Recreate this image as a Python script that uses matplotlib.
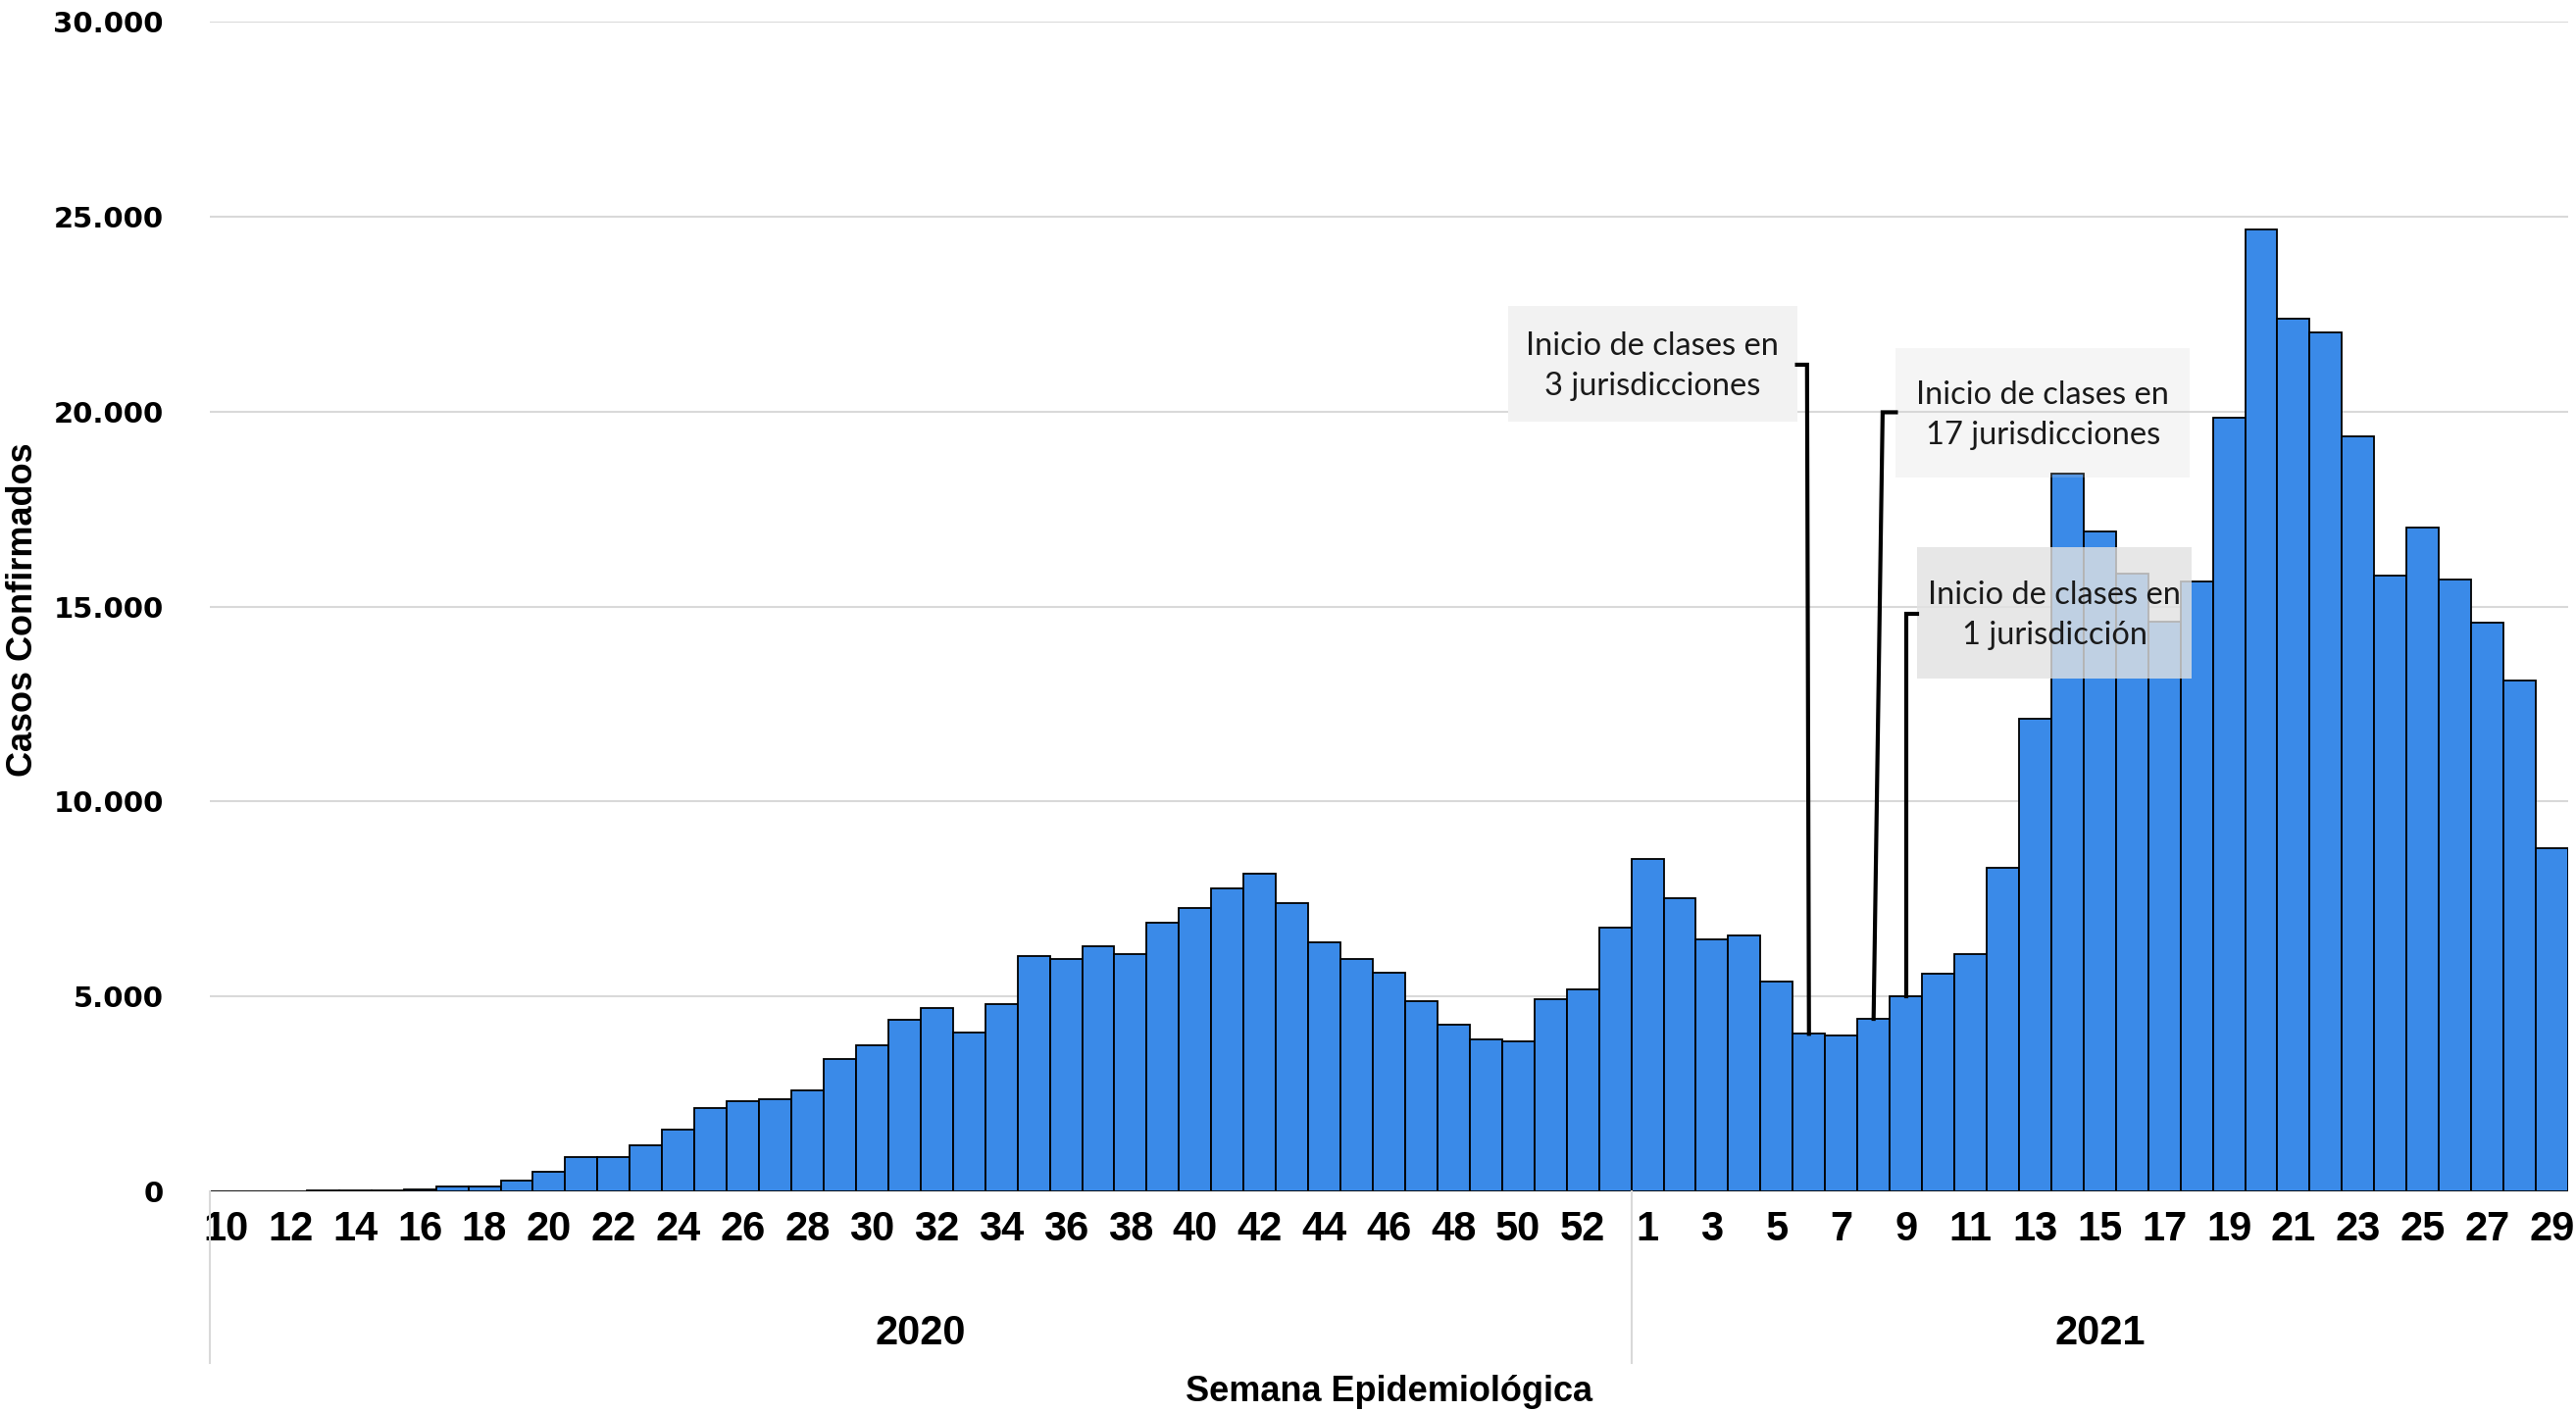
import matplotlib
matplotlib.use("Agg")
import matplotlib.pyplot as plt
from matplotlib.patches import Rectangle
from matplotlib import font_manager as fm
import numpy as np

# ---------------- data ----------------
weeks_2020 = list(range(10, 54))
cases_2020 = [2, 5, 10, 15, 20, 25, 40,
              120, 125, 270, 500, 870, 870, 1175, 1595, 2130, 2310, 2360, 2600,
              3405, 3740, 4410, 4700, 4080, 4800, 6040, 5960, 6275, 6080, 6900,
              7275, 7760, 8145, 7385, 6385, 5950, 5610, 4890, 4280, 3890, 3840,
              4940, 5180, 6760]
weeks_2021 = list(range(1, 30))
cases_2021 = [8525, 7525, 6470, 6560, 5380, 4040, 3990, 4425, 5000, 5570, 6095,
              8300, 12120, 18400, 16920, 15840, 14600, 15640, 19830, 24680,
              22370, 22020, 19360, 15790, 17020, 15690, 14580, 13100, 8800]
years = ["2020", "2021"]
yticks = [0, 5000, 10000, 15000, 20000, 25000, 30000]
notes = ["Inicio de clases en\n3 jurisdicciones",
         "Inicio de clases en\n17 jurisdicciones",
         "Inicio de clases en\n1 jurisdicción"]
note_weeks_2021 = [6, 8, 9]

available = {f.name for f in fm.fontManager.ttflist}
narrow = [f for f in ["Liberation Sans Narrow", "DejaVu Sans Condensed"] if f in available]
NARROW = narrow + ["Liberation Sans"]

# ---------------- figure ----------------
W, H = 2627, 1440
fig = plt.figure(figsize=(W / 100, H / 100), dpi=100)
ax = fig.add_axes([214 / W, 1 - 1215 / H, (2619 - 214) / W, (1215 - 22) / H])

values = cases_2020 + cases_2021
x = np.arange(len(values))
n20 = len(cases_2020)

ax.bar(x, values, width=1.0, color="#3a8ae8", edgecolor="black", linewidth=1.3, zorder=2)

ax.set_xlim(-0.5, len(values) - 0.5)
ax.set_ylim(0, 30000)
for s in ax.spines.values():
    s.set_visible(False)
for v in yticks:
    ax.axhline(v, color="#d9d9d9", linewidth=1.5, zorder=1)

ax.set_yticks(yticks)
ax.set_yticklabels([f"{v:,}".replace(",", ".") for v in yticks],
                   fontsize=21, fontweight="bold", family="DejaVu Sans")
ax.tick_params(axis="y", length=0, pad=34)

tick_pos = [i for i in range(0, n20, 2)] + [n20 + i for i in range(0, len(cases_2021), 2)]
tick_lab = [str(weeks_2020[i]) for i in range(0, n20, 2)] + \
           [str(weeks_2021[i]) for i in range(0, len(cases_2021), 2)]
ax.set_xticks(tick_pos)
ax.set_xticklabels(tick_lab, fontsize=30, fontweight="bold", family=NARROW)
ax.tick_params(axis="x", length=0, pad=14)

xt = ax.get_xaxis_transform()
for xs in [-0.5, n20 - 0.5]:
    ax.plot([xs, xs], [0, -0.147], transform=xt, color="#d9d9d9",
            linewidth=1.5, clip_on=False)
ax.text((n20 - 1) / 2, -0.1215, years[0], transform=xt, ha="center", va="center",
        fontsize=30, fontweight="bold", family=NARROW)
ax.text(n20 + (len(cases_2021) - 1) / 2, -0.1215, years[1], transform=xt, ha="center",
        va="center", fontsize=30, fontweight="bold", family=NARROW)
ax.text((len(values) - 1) / 2, -0.171, "Semana Epidemiológica", transform=xt,
        ha="center", va="center", fontsize=26, fontweight="bold", family=NARROW)
fig.text(24 / W, 1 - 622 / H, "Casos Confirmados", rotation=90, ha="center", va="center",
         fontsize=26, fontweight="bold", family=NARROW)

# ---------------- annotations ----------------
boxes = [
    dict(x0=39.68, x1=48.63, y0=19730, y1=22720, fc="#f2f2f2", a=1.0, stub_y=21200, dx=-0.06),
    dict(x0=51.69, x1=60.79, y0=18300, y1=21625, fc="#d0d0d0", a=0.2, stub_y=19980, dx=0.28),
    dict(x0=52.35, x1=60.84, y0=13155, y1=16525, fc="#e2e2e2", a=0.8, stub_y=14800, dx=0.0),
]
for note, wk, b in zip(notes, note_weeks_2021, boxes):
    bi = n20 + wk - 1
    top = values[bi]
    ax.add_patch(Rectangle((b["x0"], b["y0"]), b["x1"] - b["x0"], b["y1"] - b["y0"],
                           facecolor=b["fc"], alpha=b["a"], edgecolor="none", zorder=3))
    ax.text((b["x0"] + b["x1"]) / 2, (b["y0"] + b["y1"]) / 2 - 60, note, ha="center",
            va="center", fontsize=23.5, family="Lato", linespacing=1.45, zorder=5,
            color="#1a1a1a")
    side = b["x1"] if b["x1"] < bi else b["x0"]
    ax.plot([side, bi + b["dx"], bi], [b["stub_y"], b["stub_y"], top],
            color="black", linewidth=3, zorder=4, solid_joinstyle="miter")

fig.savefig("out.png", dpi=100, facecolor="white")
